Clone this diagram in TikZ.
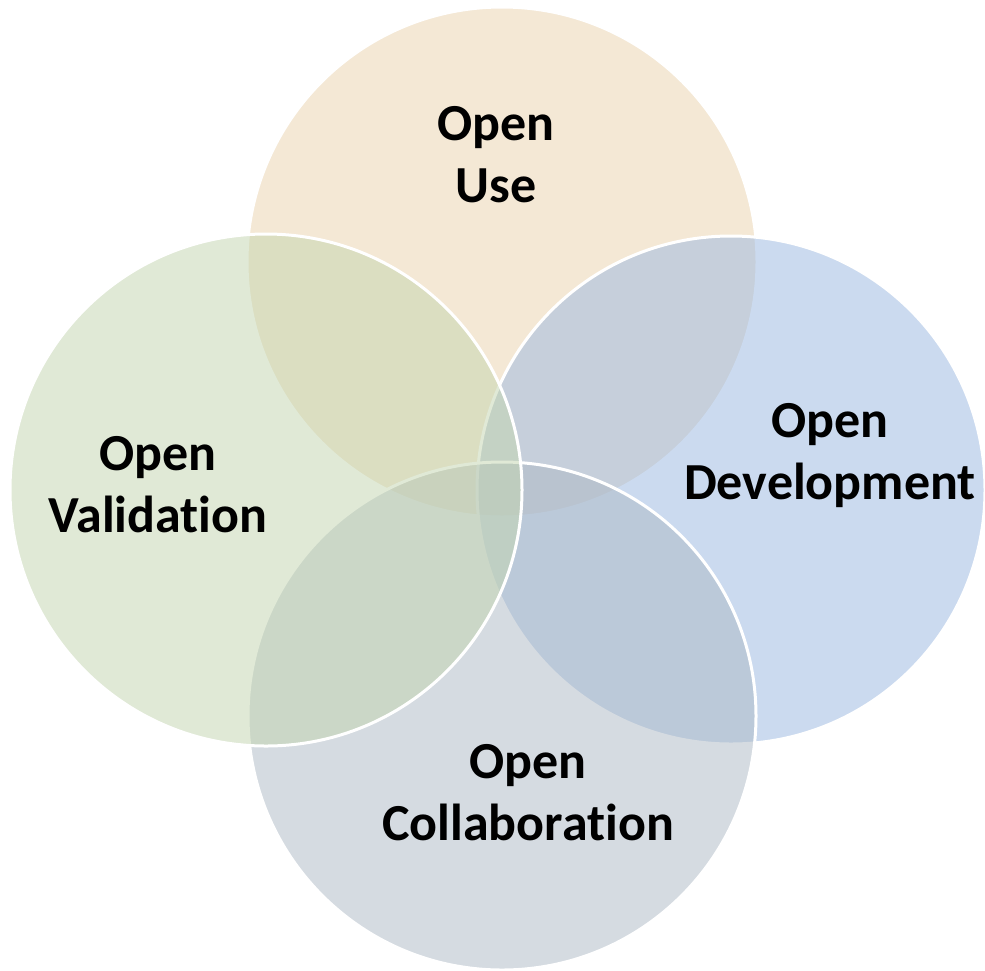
\documentclass[tikz,border=0pt]{standalone}
\usepackage{fontspec}
\setmainfont{Carlito}[Ligatures=NoCommon]
\definecolor{cUse}{RGB}{235,211,173}
\definecolor{cVal}{RGB}{195,213,175}
\definecolor{cDev}{RGB}{153,183,225}
\definecolor{cCol}{RGB}{173,185,197}
\tikzset{
  venn/.style={draw=white, line width=3pt, fill opacity=0.5},
  lbl/.style={align=center, font=\fontsize{52}{62}\selectfont\bfseries, text=black, inner sep=0pt}
}
\begin{document}
\begin{tikzpicture}[x=1pt,y=-1pt]
\useasboundingbox (0,0) rectangle (985,970);
\fill[white] (0,0) rectangle (985,970);
\path[venn, fill=cUse] (502,262) circle[radius=255];
\path[venn, fill=cDev] (731,490) circle[radius=254];
\path[venn, fill=cCol] (502,716) circle[radius=254];
\path[venn, fill=cVal] (266,490) circle[radius=256];
\node[lbl, anchor=base] (use) at (496,202) {Open\\Use};
\node[lbl, anchor=base] (val) at (158,532) {Open\\Validation};
\node[lbl, anchor=base] (dev) at (830,499) {Open\\Development};
\node[lbl, anchor=base] (col) at (528,840) {Open\\Collaboration};
\end{tikzpicture}
\end{document}
